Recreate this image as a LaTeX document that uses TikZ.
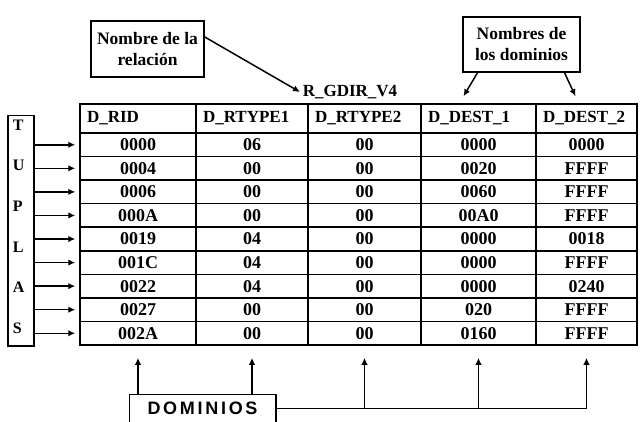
\documentclass[tikz,border=0pt]{standalone}
\usepackage{fontspec}
\setmainfont{Liberation Serif}
\setsansfont{Liberation Sans}
\usetikzlibrary{arrows.meta}

\begin{document}
\begin{tikzpicture}[x=1pt, y=-1pt, line width=1.5pt,
    tip/.style={-{Latex[length=7pt,width=6.5pt]}},
    lbl/.style={draw, align=center, font=\bfseries\fontsize{17.5}{21}\selectfont},
    cell/.style={draw, inner sep=0pt, minimum height=23.56pt, font=\bfseries\fontsize{18}{18}\selectfont},
    head/.style={draw, inner xsep=7pt, inner ysep=0pt, minimum height=29pt, align=left, font=\bfseries\fontsize{17}{17}\selectfont}]
  \useasboundingbox (0,0) rectangle (642,422);

  \foreach \n/\x/\w [count=\c] in {D\_RID/138/116, D\_RTYPE1/252/112, D\_RTYPE2/364.5/113, D\_DEST\_1/478.5/115, D\_DEST\_2/586.5/101} {
    \pgfmathsetmacro\tw{\w-14}
    \node[head, text width=\tw pt] (h\c) at (\x,118.5) {\n};
  }

  \foreach \va/\vb/\vc/\vd/\ve [count=\i] in {0000/06/00/0000/0000, 0004/00/00/0020/FFFF, 0006/00/00/0060/FFFF, 000A/00/00/00A0/FFFF, 0019/04/00/0000/0018, 001C/04/00/0000/FFFF, 0022/04/00/0000/0240, 0027/00/00/020/FFFF, 002A/00/00/0160/FFFF} {
    \pgfmathsetmacro\yc{133+23.56*(\i-0.5)}
    \node[cell, minimum width=116pt] (r\i-1) at (138,\yc) {\va};
    \node[cell, minimum width=112pt] (r\i-2) at (252,\yc) {\vb};
    \node[cell, minimum width=113pt] (r\i-3) at (364.5,\yc) {\vc};
    \node[cell, minimum width=115pt] (r\i-4) at (478.5,\yc) {\vd};
    \node[cell, minimum width=101pt] (r\i-5) at (586.5,\yc) {\ve};
  }

  \node[draw, minimum width=26pt, minimum height=230pt, anchor=north west] (tup) at (7,115) {};
  \node[anchor=north west, inner sep=0pt, align=left, font=\bfseries\fontsize{16}{40.6}\selectfont] (tuplas) at (12,119) {T\\U\\P\\L\\A\\S};
  \foreach \i in {1,...,9}
    \draw[tip, shorten >=4pt] (tup.east |- r\i-1.west) -- (r\i-1.west);

  \node[lbl, minimum width=113pt, minimum height=56pt] (nomrel) at (147.5,49) {Nombre de la\\relación};
  \node[anchor=west, inner sep=2pt, font=\bfseries\fontsize{17}{17}\selectfont] (rel) at (300,92) {R\_GDIR\_V4};
  \draw[tip] ([yshift=12pt]nomrel.east) -- (rel.west);

  \node[lbl, minimum width=117pt, minimum height=55pt] (nomdom) at (521.5,44.5) {Nombres de\\los dominios};
  \draw[tip] ([xshift=-44pt]nomdom.south) -- ([xshift=-15pt, yshift=7pt]h4.north);
  \draw[tip] ([xshift=43pt]nomdom.south) -- ([xshift=-11pt, yshift=7pt]h5.north);

  \node[minimum width=145pt, minimum height=27pt, inner sep=0pt, font=\sffamily\bfseries\fontsize{18}{18}\selectfont\addfontfeature{LetterSpace=15}] (dom) at (202.5,408.5) {DOMINIOS};
  \draw (dom.south west) |- (dom.north east) -- (dom.south east);
  \draw (dom.east) -- (dom.east -| r9-5.south);
  \foreach \c in {1,2}
    \draw[tip, shorten >=12pt] (dom.north -| r9-\c.south) -- (r9-\c.south);
  \foreach \c in {3,4,5}
    \draw[tip, shorten >=12pt] (dom.east -| r9-\c.south) -- (r9-\c.south);
\end{tikzpicture}
\end{document}
